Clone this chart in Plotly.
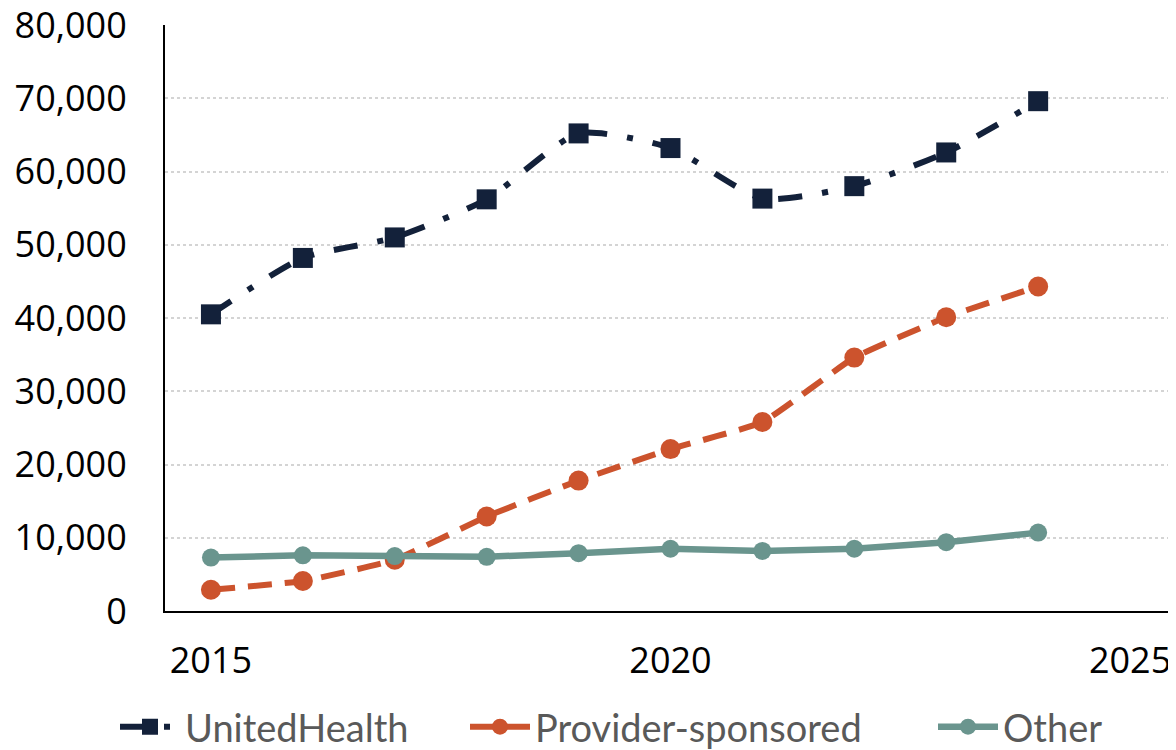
import plotly.graph_objects as go

years = [2015, 2016, 2017, 2018, 2019, 2020, 2021, 2022, 2023, 2024]
united_health = [40500, 48200, 51000, 56200, 65200, 63200, 56300, 58000, 62600, 69600]
provider_sponsored = [2900, 4100, 7000, 12900, 17800, 22100, 25800, 34600, 40100, 44300]
other = [7300, 7600, 7500, 7400, 7900, 8500, 8200, 8500, 9400, 10700]

y_ticks = [0, 10000, 20000, 30000, 40000, 50000, 60000, 70000, 80000]
x_ticks = [2015, 2020, 2025]

NAVY = "#13213a"
ORANGE = "#cc532d"
TEAL = "#6a958e"

W, H = 1168, 742  # page body has an 8px default margin

fig = go.Figure()
fig.add_trace(go.Scatter(
    x=years, y=united_health, name="UnitedHealth", mode="lines+markers",
    line=dict(color=NAVY, width=6, dash="24px,20px,6px,20px", shape="spline", smoothing=0.6),
    marker=dict(symbol="square", size=20, color=NAVY),
    legend="legend",
))
fig.add_trace(go.Scatter(
    x=years, y=provider_sponsored, name="Provider-sponsored", mode="lines+markers",
    line=dict(color=ORANGE, width=6, dash="24px,13px", shape="spline", smoothing=0.4),
    marker=dict(symbol="circle", size=20, color=ORANGE),
    legend="legend2",
))
fig.add_trace(go.Scatter(
    x=years, y=other, name="Other", mode="lines+markers",
    line=dict(color=TEAL, width=6.5),
    marker=dict(symbol="circle", size=18, color=TEAL),
    legend="legend3",
))

leg_font = dict(family="Lato", size=38, color="#595959")
leg_y = (H - 719) / H

def leg(xpix):
    return dict(
        orientation="h", xref="container", yref="container",
        x=xpix / W, xanchor="left", y=leg_y, yanchor="middle",
        font=leg_font, itemwidth=60, bgcolor="rgba(0,0,0,0)",
    )

fig.update_layout(
    width=W, height=H,
    margin=dict(l=157, r=0, t=17, b=139, autoexpand=False),
    plot_bgcolor="white", paper_bgcolor="white",
    font=dict(family="Open Sans", size=36, color="#000000"),
    legend=leg(107),
    legend2=leg(457),
    legend3=leg(925),
    showlegend=True,
)
fig.update_xaxes(
    range=[2014.5, 2025.5], tickvals=x_ticks, ticktext=[str(t) for t in x_ticks],
    showgrid=False, zeroline=False, automargin=False,
    showline=True, linecolor="#000000", linewidth=2,
    ticks="", ticklabelstandoff=17, ticklabeloverflow="allow",
)
fig.update_yaxes(
    range=[0, 80000], tickvals=y_ticks, ticktext=[f"{v:,}" for v in y_ticks],
    showgrid=True, gridcolor="#d4d4d4", gridwidth=2, griddash="dot",
    zeroline=False, showline=True, linecolor="#000000", linewidth=2, automargin=False,
    ticks="", ticklabelstandoff=29, ticklabeloverflow="allow",
)

fig.write_html("out.html")
